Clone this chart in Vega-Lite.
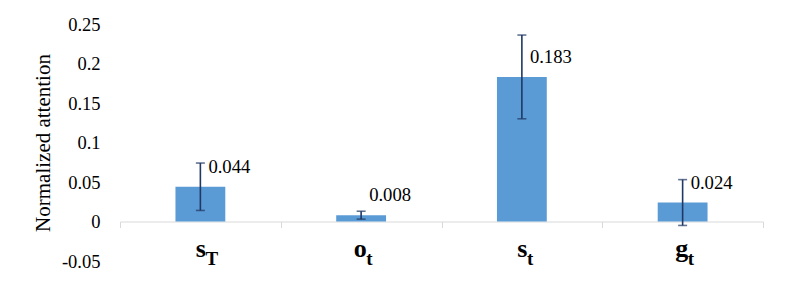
{
  "$schema": "https://vega.github.io/schema/vega-lite/v6.json",
  "autosize": {"type": "none"},
  "padding": {"left": 120, "top": 24, "right": 26, "bottom": 27},
  "width": 643,
  "height": 237,
  "background": "white",
  "config": {
    "view": {"stroke": null},
    "font": "Times New Roman",
    "text": {"font": "Times New Roman"},
    "axis": {"labelFont": "Times New Roman", "titleFont": "Times New Roman"}
  },
  "data": {
    "values": [
      {"term": "sT", "letter": "s", "sub": "T", "value": 0.044, "err": 0.030},
      {"term": "ot", "letter": "o", "sub": "t", "value": 0.008, "err": 0.005},
      {"term": "st", "letter": "s", "sub": "t", "value": 0.183, "err": 0.053},
      {"term": "gt", "letter": "g", "sub": "t", "value": 0.024, "err": 0.029}
    ]
  },
  "encoding": {
    "x": {
      "field": "term",
      "type": "nominal",
      "sort": null,
      "scale": {"paddingInner": 0, "paddingOuter": 0},
      "axis": {
        "title": null,
        "orient": "bottom",
        "offset": -39.5,
        "domainColor": "#d9d9d9",
        "domainWidth": 1,
        "ticks": true,
        "tickBand": "extent",
        "tickSize": 6,
        "tickColor": "#d9d9d9",
        "labelAngle": 0,
        "labelExpr": "substring(datum.label, 0, 1)",
        "labelFont": "Times New Roman",
        "labelFontWeight": "bold",
        "labelFontSize": 26,
        "labelColor": "#000000",
        "labelAlign": "right",
        "labelOffset": 5,
        "labelBaseline": "alphabetic",
        "labelPadding": 28.5
      }
    },
    "y": {
      "field": "value",
      "type": "quantitative",
      "scale": {"domain": [-0.05, 0.25], "nice": false, "zero": false},
      "axis": {
        "title": "Normalized attention",
        "titleFont": "Times New Roman",
        "titleFontSize": 21,
        "titleFontWeight": "normal",
        "titleColor": "#000000",
        "titleX": -77,
        "titleBaseline": "middle",
        "values": [-0.05, 0, 0.05, 0.1, 0.15, 0.2, 0.25],
        "labelExpr": "'' + datum.value",
        "labelOverlap": false,
        "labelFont": "Times New Roman",
        "labelFontSize": 18.5,
        "labelColor": "#000000",
        "labelPadding": 20,
        "domain": false,
        "ticks": false,
        "grid": false
      }
    }
  },
  "layer": [
    {
      "mark": {"type": "bar", "color": "#5b9bd5", "width": {"band": 0.31}}
    },
    {
      "mark": {
        "type": "errorbar",
        "color": "#1f3864",
        "thickness": 1.6,
        "ticks": {"size": 9, "thickness": 1.6, "color": "#1f3864"}
      },
      "encoding": {
        "yError": {"field": "err"}
      }
    },
    {
      "mark": {
        "type": "text",
        "align": "left",
        "baseline": "middle",
        "dx": 8,
        "dy": -20,
        "font": "Times New Roman",
        "fontSize": 18.67,
        "color": "#000000"
      },
      "encoding": {
        "text": {"field": "value", "type": "quantitative", "format": ".3f"}
      }
    },
    {
      "mark": {
        "type": "text",
        "align": "left",
        "baseline": "alphabetic",
        "dx": 5,
        "dy": 43.5,
        "font": "Times New Roman",
        "fontWeight": "bold",
        "fontSize": 19,
        "color": "#000000"
      },
      "encoding": {
        "y": {"datum": 0, "type": "quantitative"},
        "text": {"field": "sub"}
      }
    }
  ]
}
